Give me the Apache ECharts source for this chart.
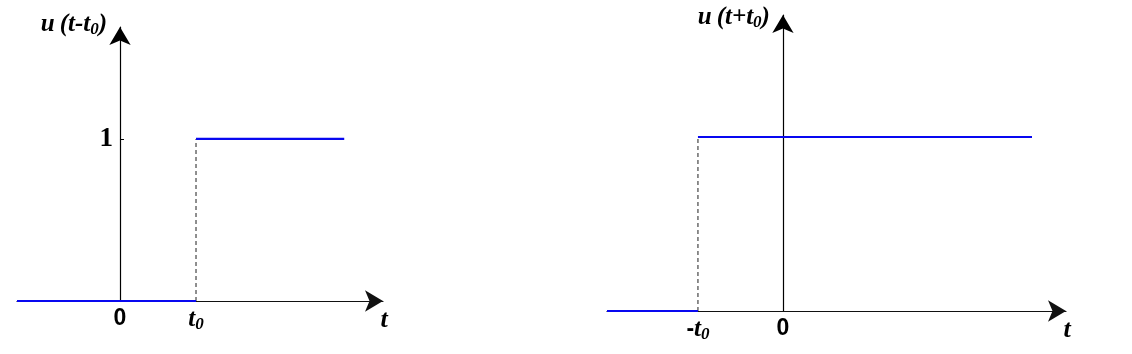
<!DOCTYPE html>
<html>
<head>
<meta charset="utf-8">
<script src="https://cdn.jsdelivr.net/npm/echarts@6/dist/echarts.min.js"></script>
<style>
html,body{margin:0;padding:0;background:#fff;}
#c{width:1132px;height:354px;}
</style>
</head>
<body>
<div id="c"></div>
<script>
// ---- data (t in units of t0, u dimensionless) ----
const leftLowT = [-1.355, 1];
const leftLowU = [0, 0];
const leftHighT = [1, 2.95];
const leftHighU = [1, 1];
const leftJumpT = [1, 1];
const leftJumpU = [0, 1];
const leftXTicks = [0, 1];
const leftXTickLabels = ['0', 't0'];
const leftYTicks = [1];
const leftYTickLabels = ['1'];
const leftXRange = [-1.355, 3.46];
const leftYRange = [0, 1.691];
const leftYName = 'u(t-t0)';

const rightLowT = [-2.07, -1];
const rightLowU = [0, 0];
const rightHighT = [-1, 2.93];
const rightHighU = [1, 1];
const rightJumpT = [-1, -1];
const rightJumpU = [0, 1];
const rightXTicks = [-1, 0];
const rightXTickLabels = ['-t0', '0'];
const rightXRange = [-2.07, 3.33];
const rightYRange = [0, 1.701];
const rightYName = 'u(t+t0)';
const xName = 't';

// grid boxes (pixels)
const gridL = {left: 17, width: 366, top: 27, height: 274};
const gridR = {left: 607, width: 459, top: 15, height: 296};

function pairs(xs, ys) { return xs.map((x, i) => [x, ys[i]]); }

function richText(s) {
  let out = '';
  for (let i = 0; i < s.length; i++) {
    const c = s[i];
    if (/[0-9]/.test(c) && i > 0 && s[i - 1] === 't') out += '{s|' + c + '}';
    else if (c === '0' && s.length === 1) out += '{z|0}';
    else if (c === '-' && i === 0 && s.length <= 3) out += '{d|-}';
    else out += '{m|' + (c === '(' ? '\u2009(' : c) + '}';
  }
  return out;
}

const serif = "'Liberation Serif', 'DejaVu Serif', serif";
const sans = "'Liberation Sans', Arial, sans-serif";
const rich = {
  m: {fontFamily: serif, fontStyle: 'italic', fontWeight: 'bold', fontSize: 25, color: '#000'},
  s: {fontFamily: serif, fontStyle: 'italic', fontWeight: 'bold', fontSize: 17, color: '#000', padding: [9, 0, 0, 0]},
  d: {fontFamily: sans, fontWeight: 'bold', fontSize: 23, color: '#000'},
  z: {fontFamily: sans, fontWeight: 'bold', fontSize: 23, color: '#000'}
};

function makeX(gridIndex, range, ticks, labels) {
  return {
    type: 'value', gridIndex, min: range[0], max: range[1],
    name: xName,
    nameLocation: 'end', nameGap: 1,
    nameTextStyle: {fontFamily: serif, fontStyle: 'italic', fontWeight: 'bold', fontSize: 26, color: '#000',
      align: 'center', verticalAlign: 'top', padding: [6, 0, 0, 0]},
    axisLine: {onZero: false, symbol: ['none', 'arrow'], symbolSize: [16, 18],
      lineStyle: {color: '#111', width: 1.2}},
    axisTick: {show: false},
    splitLine: {show: false},
    axisLabel: {
      customValues: ticks, margin: 6, rich: rich,
      fontFamily: sans, fontWeight: 'bold', fontSize: 23, color: '#000',
      formatter: v => { const i = ticks.indexOf(v); return i >= 0 ? richText(labels[i]) : ''; }
    }
  };
}

function makeY(gridIndex, range, xRange, grid, ticks, labels, name, nameGap) {
  // put the y axis at t = 0 of the x scale
  const zeroOffset = -(0 - xRange[0]) / (xRange[1] - xRange[0]) * grid.width;
  return {
    type: 'value', gridIndex, min: range[0], max: range[1],
    position: 'left', offset: zeroOffset,
    name: richText(name),
    nameLocation: 'end', nameGap: nameGap,
    nameTextStyle: {align: 'right', verticalAlign: 'middle', padding: [0, 13, 0, 0], rich: rich,
      fontFamily: serif, fontStyle: 'italic', fontWeight: 'bold', fontSize: 25, color: '#000'},
    axisLine: {onZero: false, symbol: ['none', 'arrow'], symbolSize: [16, 18], lineStyle: {color: '#000', width: 1.2}},
    axisTick: {show: ticks.length > 0, inside: true, length: 4, customValues: ticks, lineStyle: {color: '#000'}},
    splitLine: {show: false},
    axisLabel: {
      show: ticks.length > 0, customValues: ticks, margin: 7,
      fontFamily: serif, fontWeight: 'bold', fontSize: 27, color: '#000',
      formatter: v => { const i = ticks.indexOf(v); return i >= 0 ? labels[i] : ''; }
    }
  };
}

const blue = {color: '#0808f0', width: 2.2};
const dash = {color: '#333', width: 1.1, type: [4, 3]};
function seg(xi, yi, data, style, z) {
  return {type: 'line', xAxisIndex: xi, yAxisIndex: yi, data, symbol: 'none', lineStyle: style, z, silent: true, animation: false};
}

const chart = echarts.init(document.getElementById('c'), null, {renderer: 'canvas'});
chart.setOption({
  animation: false,
  backgroundColor: '#fff',
  grid: [
    Object.assign({containLabel: false, outerBoundsMode: 'none'}, gridL),
    Object.assign({containLabel: false, outerBoundsMode: 'none'}, gridR)
  ],
  xAxis: [
    makeX(0, leftXRange, leftXTicks, leftXTickLabels),
    makeX(1, rightXRange, rightXTicks, rightXTickLabels)
  ],
  yAxis: [
    makeY(0, leftYRange, leftXRange, gridL, leftYTicks, leftYTickLabels, leftYName, 2),
    makeY(1, rightYRange, rightXRange, gridR, [], [], rightYName, -3)
  ],
  series: [
    seg(0, 0, pairs(leftJumpT, leftJumpU), dash, 2),
    seg(0, 0, pairs(leftLowT, leftLowU), blue, 3),
    seg(0, 0, pairs(leftHighT, leftHighU), blue, 3),
    seg(1, 1, pairs(rightJumpT, rightJumpU), dash, 2),
    seg(1, 1, pairs(rightLowT, rightLowU), blue, 3),
    seg(1, 1, pairs(rightHighT, rightHighU), blue, 3)
  ]
});
</script>
</body>
</html>
